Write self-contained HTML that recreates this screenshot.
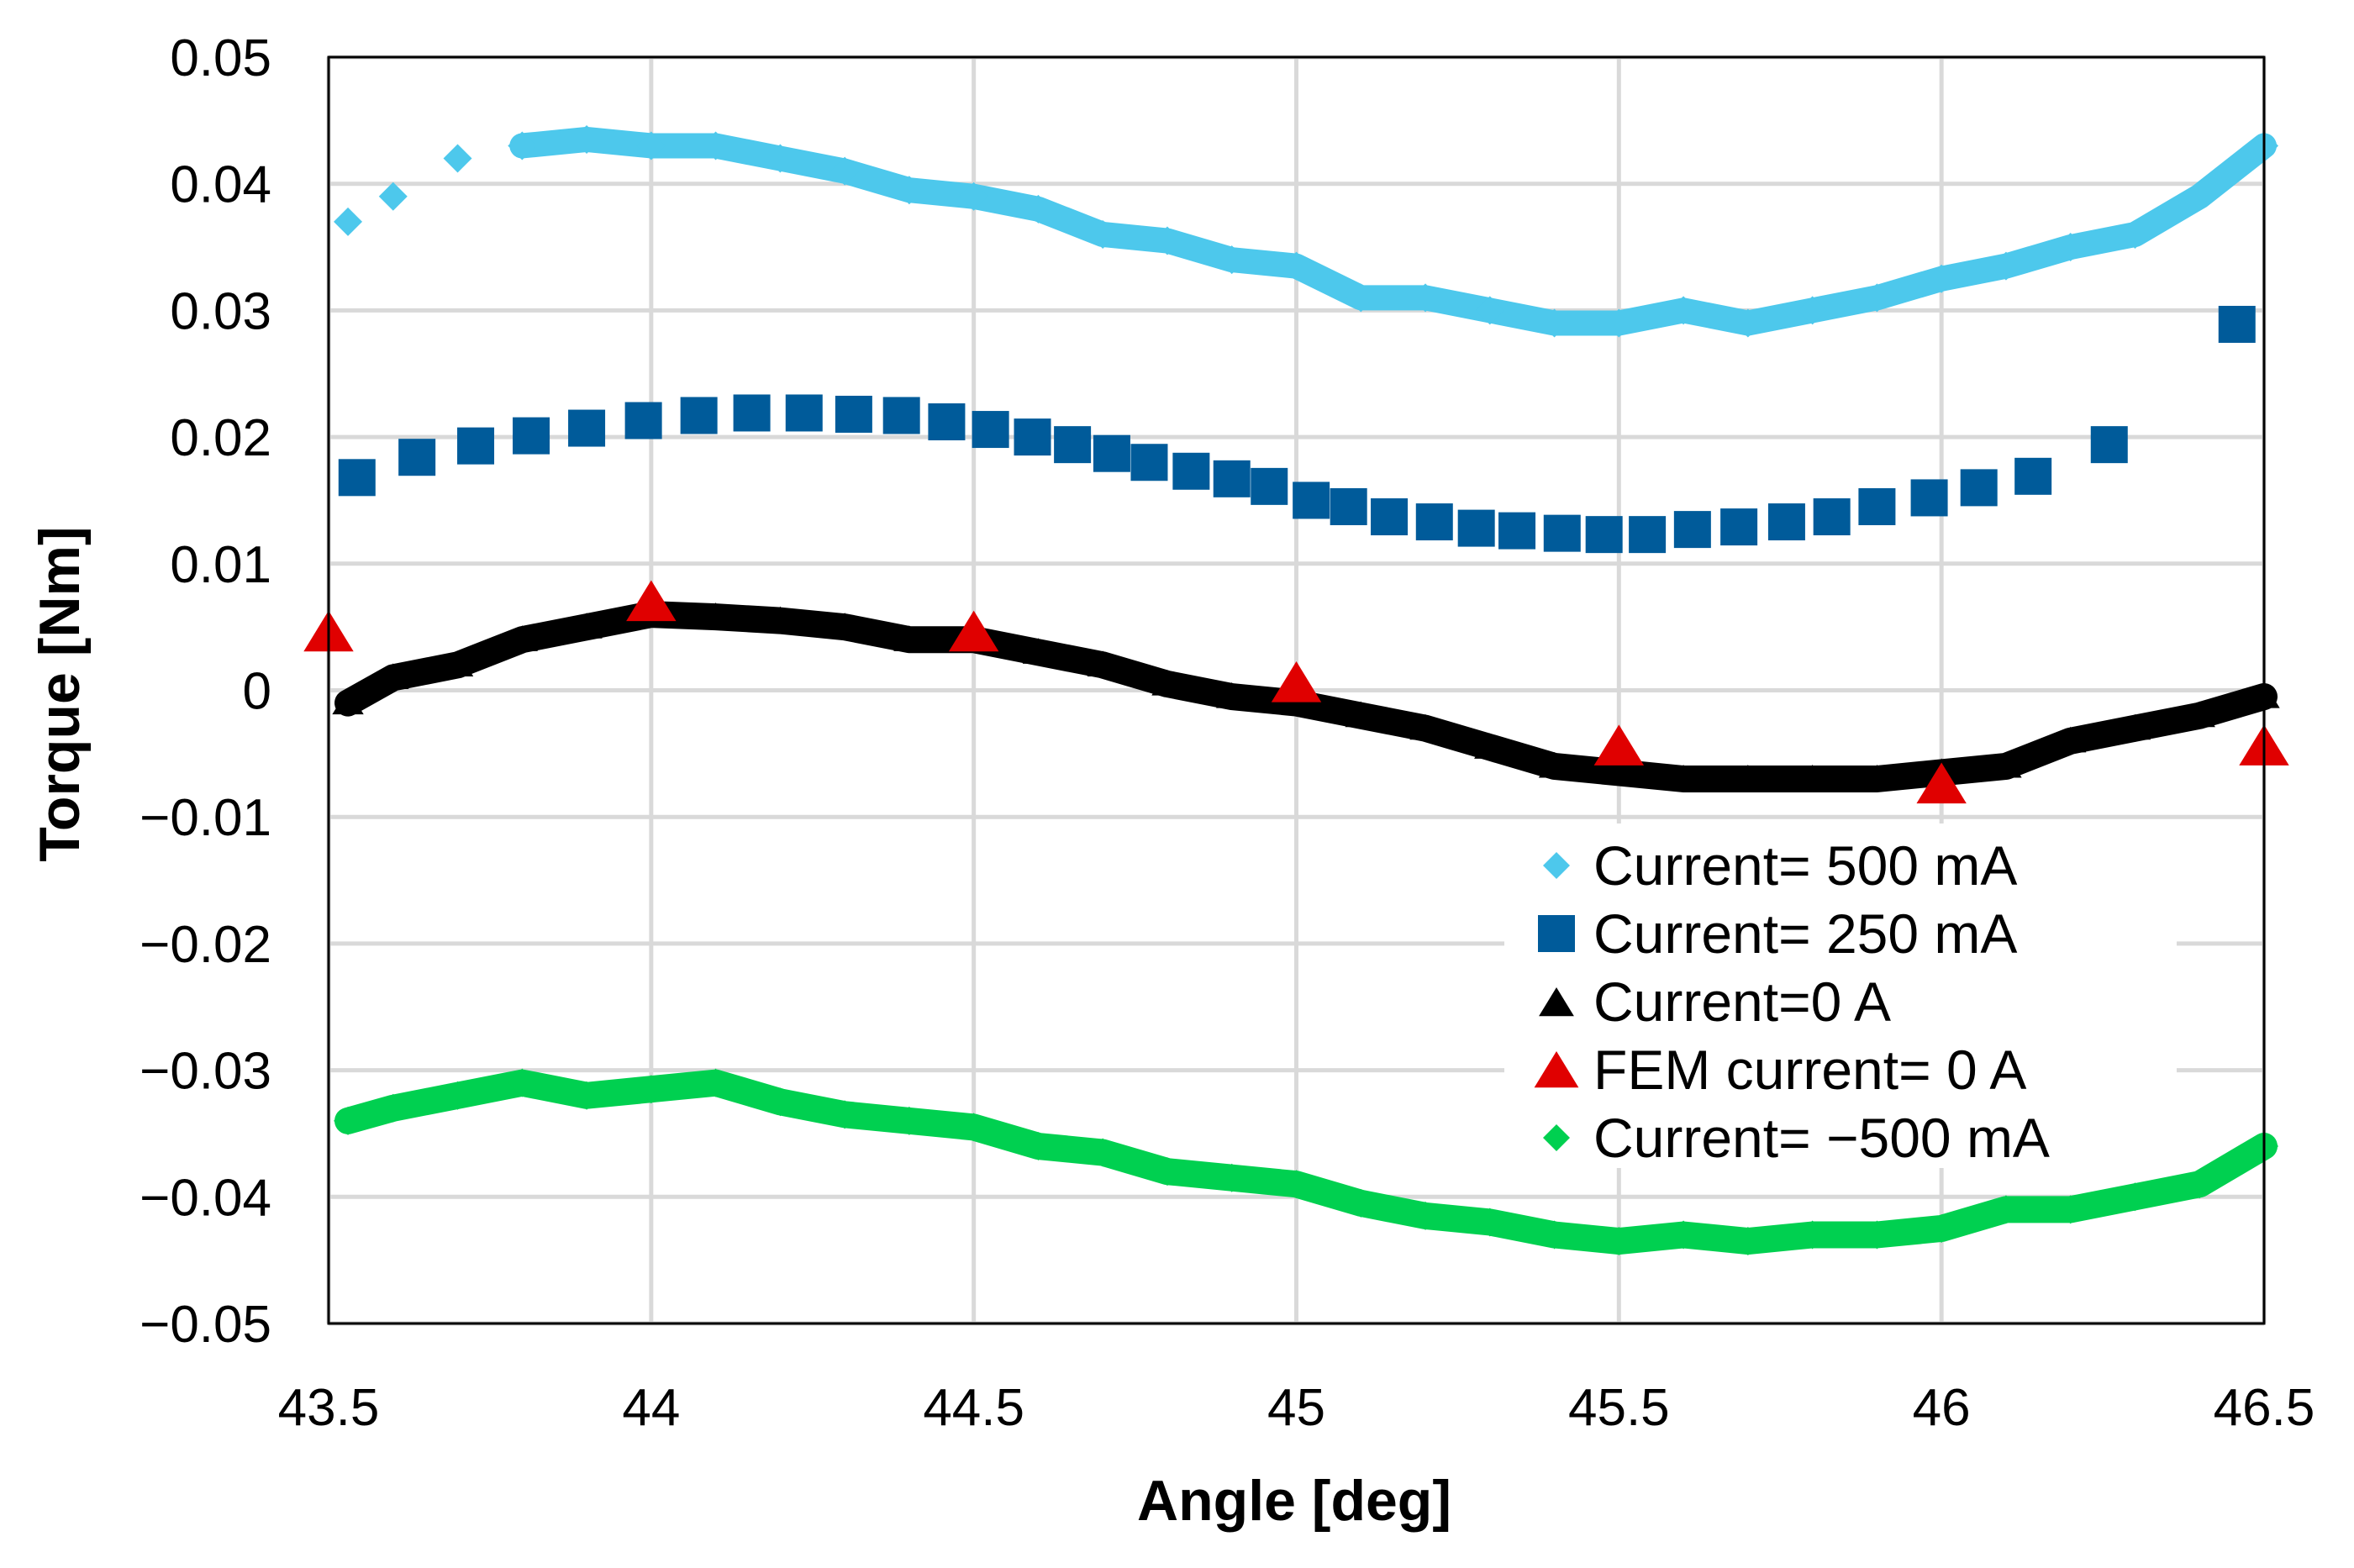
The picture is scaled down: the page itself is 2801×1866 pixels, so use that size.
<!DOCTYPE html>
<html><head><meta charset="utf-8">
<style>
html,body{margin:0;padding:0;background:#fff;}
svg{display:block;font-family:"Liberation Sans",Arial,sans-serif;}
</style></head>
<body>
<svg id="chart" width="2801" height="1866" viewBox="0 0 2801 1866" xmlns="http://www.w3.org/2000/svg">
<rect width="2801" height="1866" fill="#fff"/>
<g id="grid"></g>
<g id="series"></g>
<g id="axes"></g>
<text x="1540" y="1809" font-size="68" font-weight="bold" text-anchor="middle">Angle [deg]</text>
<text transform="translate(94,826) rotate(-90)" font-size="68" font-weight="bold" text-anchor="middle">Torque [Nm]</text>
<g id="legend"></g>
</svg>
<script>
const xTicks = [43.5, 44, 44.5, 45, 45.5, 46, 46.5];
const xTickLabels = ["43.5","44","44.5","45","45.5","46","46.5"];
const yTicks = [0.05,0.04,0.03,0.02,0.01,0,-0.01,-0.02,-0.03,-0.04,-0.05];
const yTickLabels = ["0.05","0.04","0.03","0.02","0.01","0","\u22120.01","\u22120.02","\u22120.03","\u22120.04","\u22120.05"];

const denseX = [43.53,43.6,43.7,43.8,43.9,44,44.1,44.2,44.3,44.4,44.5,44.6,44.7,44.8,44.9,45,45.1,45.2,45.3,45.4,45.5,45.6,45.7,45.8,45.9,46,46.1,46.2,46.3,46.4,46.5];
const pos500 = [0.037,0.039,0.042,0.043,0.0435,0.043,0.043,0.042,0.041,0.0395,0.039,0.038,0.036,0.0355,0.034,0.0335,0.031,0.031,0.030,0.029,0.029,0.030,0.029,0.030,0.031,0.0325,0.0335,0.035,0.036,0.039,0.043];
const zeroA = [-0.001,0.001,0.002,0.004,0.005,0.006,0.0058,0.0055,0.005,0.004,0.004,0.003,0.002,0.0005,-0.0005,-0.001,-0.002,-0.003,-0.0045,-0.006,-0.0065,-0.007,-0.007,-0.007,-0.007,-0.0065,-0.006,-0.004,-0.003,-0.002,-0.0005];
const neg500 = [-0.034,-0.033,-0.032,-0.031,-0.032,-0.0315,-0.031,-0.0325,-0.0335,-0.034,-0.0345,-0.036,-0.0365,-0.038,-0.0385,-0.039,-0.0405,-0.0415,-0.042,-0.043,-0.0435,-0.043,-0.0435,-0.043,-0.043,-0.0425,-0.041,-0.041,-0.040,-0.039,-0.036];

const sqX = [43.544,43.637,43.728,43.814,43.9,43.988,44.074,44.156,44.237,44.314,44.388,44.458,44.526,44.591,44.653,44.714,44.772,44.837,44.9,44.958,45.023,45.081,45.144,45.214,45.279,45.342,45.412,45.477,45.544,45.614,45.686,45.76,45.83,45.9,45.981,46.058,46.142,46.26,46.458];
const pos250 = [0.0168,0.0184,0.0193,0.0201,0.0207,0.0213,0.0217,0.0219,0.0219,0.0218,0.0217,0.0212,0.0206,0.02,0.0194,0.0187,0.018,0.0173,0.0167,0.0161,0.015,0.0145,0.0137,0.0133,0.0128,0.0126,0.0124,0.0123,0.0123,0.0127,0.0129,0.0133,0.0137,0.0145,0.0152,0.016,0.0169,0.0194,0.0289];

const femX = [43.5,44,44.5,45,45.5,46,46.5];
const femVals = [0.0045,0.0069,0.0045,0.0005,-0.0045,-0.0075,-0.0045];

const L=391,R=2694,T=68,B=1575;
const X = v => L + (v-43.5)/3*(R-L);
const Y = v => T + (0.05-v)/0.1*(B-T);
const NS="http://www.w3.org/2000/svg";
function mk(tag, parent, attrs){const e=document.createElementNS(NS,tag);for(const k in attrs)e.setAttribute(k,attrs[k]);parent.appendChild(e);return e;}

const grid=document.getElementById('grid'), axes=document.getElementById('axes'), ser=document.getElementById('series'), leg=document.getElementById('legend');
xTicks.forEach((t,i)=>{
  const g=mk('line',grid,{x1:X(t),x2:X(t),y1:T,y2:B,stroke:'#d9d9d9','stroke-width':5});
  
  
  const tx=mk('text',axes,{x:X(t),y:1696,'font-size':62,'text-anchor':'middle'});
  tx.textContent=xTickLabels[i];
  
  
});
yTicks.forEach((t,i)=>{
  const g=mk('line',grid,{x1:L,x2:R,y1:Y(t),y2:Y(t),stroke:'#d9d9d9','stroke-width':5});
  
  
  const tx=mk('text',axes,{x:323,y:Y(t)+22,'font-size':62,'text-anchor':'end'});
  tx.textContent=yTickLabels[i];
  
  
});
const frame=mk('rect',axes,{x:L,y:T,width:R-L,height:B-T,fill:'none',stroke:'#000','stroke-width':3});



function diamond(cx,cy,s){return `M${cx},${cy-s} L${cx+s},${cy} L${cx},${cy+s} L${cx-s},${cy} Z`;}
function tri(cx,cy,s){return `M${cx},${cy-s} L${cx+s*1.1},${cy+s*0.8} L${cx-s*1.1},${cy+s*0.8} Z`;}

function band(xs,vals,color,w,name){
  const pts=xs.map((x,i)=>X(x)+','+Y(vals[i])).join(' ');
  const p=mk('polyline',ser,{points:pts,fill:'none',stroke:color,'stroke-width':w,'stroke-linejoin':'round','stroke-linecap':'round'});
  
  
}
band(denseX.slice(3),pos500.slice(3),'#4dc8ec',30,'series-500ma-band');
denseX.forEach((x,i)=>{
  const m=mk('path',ser,{d:diamond(X(x),Y(pos500[i]),17),fill:'#4dc8ec'});
  
  
});
band(denseX,neg500,'#00d050',32,'series-neg500ma-band');
denseX.forEach((x,i)=>{
  const m=mk('path',ser,{d:diamond(X(x),Y(neg500[i]),17),fill:'#00d050'});
  
  
});
band(denseX,zeroA,'#000',32,'series-0a-band');
denseX.forEach((x,i)=>{
  const m=mk('path',ser,{d:tri(X(x),Y(zeroA[i]),17),fill:'#000'});
  
  
});
sqX.forEach((x,i)=>{
  const m=mk('rect',ser,{x:X(x)-22,y:Y(pos250[i])-22,width:44,height:44,fill:'#005b9a'});
  
  
});
femX.forEach((x,i)=>{
  const m=mk('path',ser,{d:tri(X(x),Y(femVals[i]),27),fill:'#e00000'});
  
  
});

// legend
const lbg=mk('rect',leg,{x:1790,y:980,width:800,height:410,fill:'#fff'});


const legItems=[["Current= 500 mA","d","#4dc8ec"],["Current= 250 mA","s","#005b9a"],["Current=0 A","t","#000"],["FEM current= 0 A","t","#e00000"],["Current= \u2212500 mA","d","#00d050"]];
legItems.forEach((it,i)=>{
  const cy=1030+i*81, cx=1852;
  let m;
  if(it[1]==='d') m=mk('path',leg,{d:diamond(cx,cy,16),fill:it[2]});
  else if(it[1]==='s') m=mk('rect',leg,{x:cx-22,y:cy-22,width:44,height:44,fill:it[2]});
  else m=mk('path',leg,{d:tri(cx,cy+2,it[2]==='#000'?19:24),fill:it[2]});
  
  
  const t=mk('text',leg,{x:1896,y:cy+23,'font-size':66});
  t.textContent=it[0];
  
  
});
</script>
</body></html>
